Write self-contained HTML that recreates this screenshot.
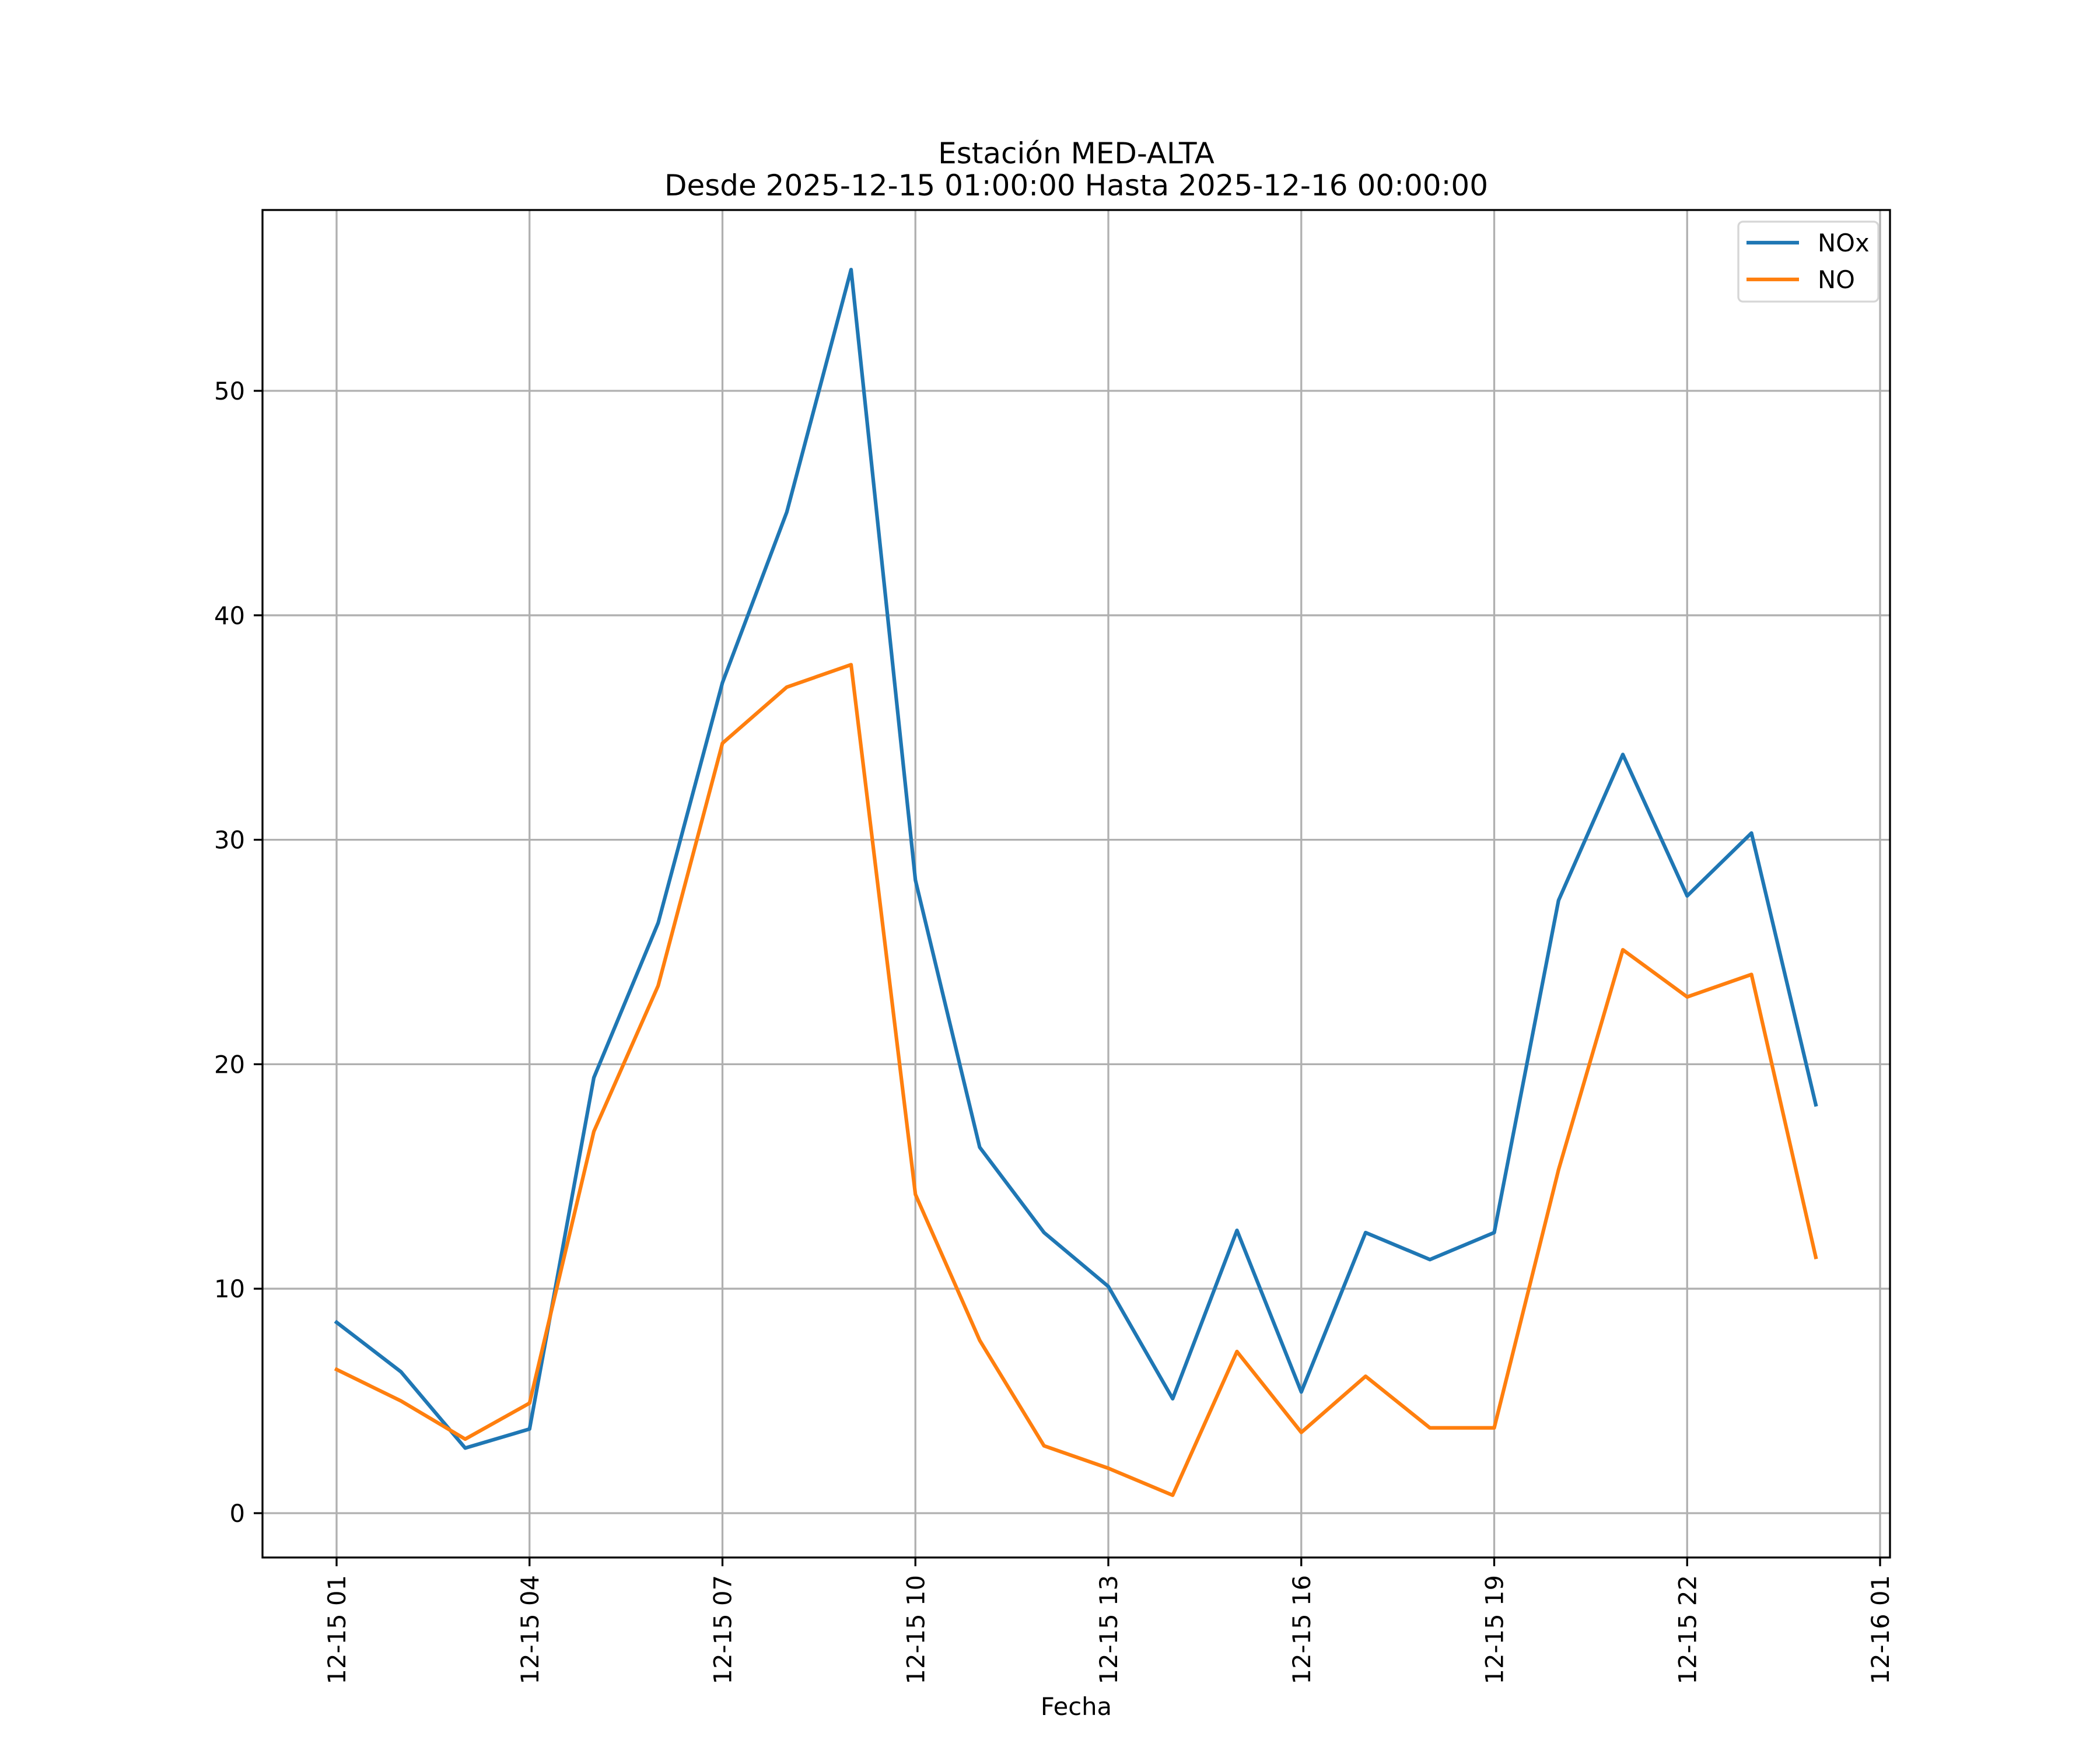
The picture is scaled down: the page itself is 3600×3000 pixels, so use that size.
<!DOCTYPE html>
<html><head><meta charset="utf-8"><style>
html,body{margin:0;padding:0;background:#fff;}
svg{display:block;font-family:"DejaVu Sans","Liberation Sans",sans-serif;}
</style></head><body>
<svg id="chart" width="3600" height="3000" viewBox="0 0 3600 3000" xmlns="http://www.w3.org/2000/svg">
<rect width="3600" height="3000" fill="#fff"/>
<g id="grid"></g>
<g id="series"></g>
<rect x="450" y="360" width="2790" height="2310" fill="none" stroke="#000" stroke-width="3.3"/>
<g id="ticks"></g>
<text x="1845" y="280" font-size="50" text-anchor="middle">Estación MED-ALTA</text>
<text x="1845" y="335" font-size="50" text-anchor="middle">Desde 2025-12-15 01:00:00 Hasta 2025-12-16 00:00:00</text>
<text x="1845" y="2940" font-size="41.7" text-anchor="middle">Fecha</text>
<g>
<rect x="2980" y="380" width="240" height="137" rx="8" fill="#fff" fill-opacity="0.8" stroke="#d6d6d6" stroke-width="3.3"/>
<line x1="2994" y1="416" x2="3084" y2="416" stroke="#1f77b4" stroke-width="6.25"/>
<text x="3116" y="431" font-size="41.7">NOx</text>
<line x1="2994" y1="479" x2="3084" y2="479" stroke="#ff7f0e" stroke-width="6.25"/>
<text x="3116" y="494" font-size="41.7">NO</text>
</g>
</svg>
<script>
const hours = [1,2,3,4,5,6,7,8,9,10,11,12,13,14,15,16,17,18,19,20,21,22,23,24];
const noxValues = [8.5,6.3,2.9,3.75,19.4,26.3,37.0,44.6,55.4,28.2,16.3,12.5,10.1,5.1,12.6,5.4,12.5,11.3,12.5,27.3,33.8,27.5,30.3,18.2];
const noValues = [6.4,5.0,3.3,4.9,17.0,23.5,34.3,36.8,37.8,14.2,7.7,3.0,2.0,0.8,7.2,3.6,6.1,3.8,3.8,15.3,25.1,23.0,24.0,11.4];
const xTickHours = [1,4,7,10,13,16,19,22,25];
const xTickLabels = ["12-15 01","12-15 04","12-15 07","12-15 10","12-15 13","12-15 16","12-15 19","12-15 22","12-16 01"];
const yTickValues = [0,10,20,30,40,50];

const NS = "http://www.w3.org/2000/svg";
function xS(h){ return 577 + (h-1)*110.25; }
function yS(v){ return 2594 - v*38.48; }
function mk(tag, attrs, parent){
  const e = document.createElementNS(NS, tag);
  for (const k in attrs) e.setAttribute(k, attrs[k]);
  parent.appendChild(e); return e;
}
const grid = document.getElementById('grid');
const ticks = document.getElementById('ticks');
const series = document.getElementById('series');

xTickHours.forEach((h,i)=>{
  const x = xS(h);
  const g = mk('line',{x1:x,y1:360,x2:x,y2:2670,stroke:'#b0b0b0','stroke-width':3.3},grid);
  
  
  const t = mk('line',{x1:x,y1:2670,x2:x,y2:2685,stroke:'#000','stroke-width':3.3},ticks);
  
  
  const l = mk('text',{x:0,y:0,'font-size':41.7,'text-anchor':'end',transform:`translate(${x+15},2700) rotate(-90)`},ticks);
  l.textContent = xTickLabels[i];
  
  
});
yTickValues.forEach(v=>{
  const y = yS(v);
  const g = mk('line',{x1:450,y1:y,x2:3240,y2:y,stroke:'#b0b0b0','stroke-width':3.3},grid);
  
  
  const t = mk('line',{x1:435,y1:y,x2:450,y2:y,stroke:'#000','stroke-width':3.3},ticks);
  
  
  const l = mk('text',{x:420,y:y+15,'font-size':41.7,'text-anchor':'end'},ticks);
  l.textContent = String(v);
  
  
});
function drawLine(vals, color, name){
  const pts = vals.map((v,i)=>xS(hours[i]).toFixed(1)+','+yS(v).toFixed(1)).join(' ');
  const p = mk('polyline',{points:pts,fill:'none',stroke:color,'stroke-width':6.25,'stroke-linejoin':'round','stroke-linecap':'square'},series);
  
  
}
drawLine(noxValues,'#1f77b4','nox-line');
drawLine(noValues,'#ff7f0e','no-line');
</script>
</body></html>
